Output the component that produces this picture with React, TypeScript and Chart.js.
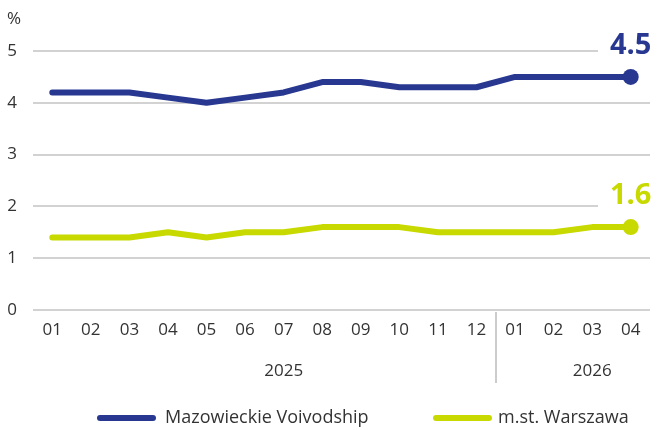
import React, { useEffect, useRef } from "react";
import { Chart, registerables } from "chart.js";
Chart.register(...registerables);

const months = ["01", "02", "03", "04", "05", "06", "07", "08", "09", "10", "11", "12", "01", "02", "03", "04"];
const years = ["2025", "2026"];
const yearMonthCounts = [12, 4];
const mazowieckie = [4.2, 4.2, 4.2, 4.1, 4.0, 4.1, 4.2, 4.4, 4.4, 4.3, 4.3, 4.3, 4.5, 4.5, 4.5, 4.5];
const warszawa = [1.4, 1.4, 1.4, 1.5, 1.4, 1.5, 1.5, 1.6, 1.6, 1.6, 1.5, 1.5, 1.5, 1.5, 1.6, 1.6];
const seriesNames = ["Mazowieckie Voivodship", "m.st. Warszawa"];
const seriesColors = ["#283891", "#C8D900"];
const unitLabel = "%";

const FONT = "'Open Sans', 'Noto Sans', sans-serif";
const TEXT = "#333333";

const extrasPlugin = {
  id: "extras",
  afterDraw(chart: any) {
    const ctx = chart.ctx;
    const x = chart.scales.x;
    const area = chart.chartArea;
    ctx.save();
    // unit label
    ctx.fillStyle = TEXT;
    ctx.font = `17px ${FONT}`;
    ctx.textAlign = "center";
    ctx.textBaseline = "middle";
    ctx.fillText(unitLabel, 14, 19);

    // year labels + separators
    let start = 0;
    years.forEach((yr, i) => {
      const cnt = yearMonthCounts[i];
      const cx = x.getPixelForValue(start + cnt / 2);
      ctx.fillStyle = TEXT;
      ctx.font = `17px ${FONT}`;
      ctx.textAlign = "center";
      ctx.textBaseline = "middle";
      ctx.fillText(yr, cx, area.bottom + 61);
      if (i > 0) {
        const sx = Math.round(x.getPixelForValue(start - 0.5));
        ctx.strokeStyle = "#cccccc";
        ctx.lineWidth = 2;
        ctx.beginPath();
        ctx.moveTo(sx, area.bottom + 2);
        ctx.lineTo(sx, area.bottom + 73);
        ctx.stroke();
      }
      start += cnt;
    });

    // end value labels
    chart.data.datasets.forEach((ds: any, di: number) => {
      const meta = chart.getDatasetMeta(di);
      const last = meta.data[meta.data.length - 1];
      const v = ds.data[ds.data.length - 1];
      const txt = v.toFixed(1);
      ctx.font = `bold 29px ${FONT}`;
      const w = ctx.measureText(txt).width;
      const by = last.y - 23;
      ctx.fillStyle = "#ffffff";
      ctx.fillRect(last.x - w / 2 - 12, by - 26, w + 24, 30);
      ctx.fillStyle = ds.borderColor;
      ctx.textAlign = "center";
      ctx.textBaseline = "alphabetic";
      ctx.fillText(txt, last.x, by);
    });

    // legend
    const items = [
      { x0: 100, x1: 153, tx: 165 },
      { x0: 436, x1: 489, tx: 498 },
    ];
    const ly = 418;
    chart.data.datasets.forEach((ds: any, di: number) => {
      const it = items[di];
      ctx.strokeStyle = ds.borderColor;
      ctx.lineWidth = 6;
      ctx.lineCap = "round";
      ctx.beginPath();
      ctx.moveTo(it.x0, ly);
      ctx.lineTo(it.x1, ly);
      ctx.stroke();
      ctx.fillStyle = TEXT;
      ctx.font = `18px ${FONT}`;
      ctx.textAlign = "left";
      ctx.textBaseline = "middle";
      ctx.fillText(ds.label, it.tx, ly);
    });
    ctx.restore();
  },
};

export default function App() {
  const ref = useRef<HTMLCanvasElement>(null);
  useEffect(() => {
    if (!ref.current) return;
    const lastIdx = months.length - 1;
    const radii = months.map((_, i) => (i === lastIdx ? 8 : 0));
    const chart = new Chart(ref.current, {
      type: "line",
      data: {
        labels: months,
        datasets: [
          {
            label: seriesNames[0],
            data: mazowieckie,
            borderColor: seriesColors[0],
            backgroundColor: seriesColors[0],
            borderWidth: 6,
            pointRadius: radii,
            pointBorderWidth: 0,
            pointHoverRadius: radii,
            tension: 0,
            borderCapStyle: "round",
            borderJoinStyle: "round",
          },
          {
            label: seriesNames[1],
            data: warszawa,
            borderColor: seriesColors[1],
            backgroundColor: seriesColors[1],
            borderWidth: 6,
            pointRadius: radii,
            pointBorderWidth: 0,
            pointHoverRadius: radii,
            tension: 0,
            borderCapStyle: "round",
            borderJoinStyle: "round",
          },
        ],
      },
      options: {
        animation: false,
        responsive: false,
        maintainAspectRatio: false,
        devicePixelRatio: 1,
        layout: { padding: { top: 51, right: 0, left: 0, bottom: 0 } },
        plugins: { legend: { display: false }, tooltip: { enabled: false } },
        scales: {
          x: {
            type: "category",
            offset: true,
            grid: { display: false, drawTicks: false },
            border: { display: false },
            ticks: {
              color: TEXT,
              font: { family: FONT, size: 17 },
              padding: 10,
              autoSkip: false,
              maxRotation: 0,
            },
            afterFit(scale: any) {
              scale.height = 120;
              scale.paddingLeft = 0;
              scale.paddingRight = 0;
            },
          },
          y: {
            min: 0,
            max: 5,
            grid: { color: "#d2d2d2", lineWidth: 2, drawTicks: false },
            border: { display: false },
            ticks: {
              stepSize: 1,
              color: TEXT,
              font: { family: FONT, size: 17 },
              padding: 16,
            },
            afterFit(scale: any) {
              scale.width = 33;
              scale.paddingTop = 0;
              scale.paddingBottom = 0;
            },
          },
        },
      },
      plugins: [extrasPlugin],
    });
    return () => chart.destroy();
  }, []);
  return (
    <div style={{ position: "fixed", left: 0, top: 0, width: 658, height: 430 }}>
      <canvas ref={ref} width={658} height={430} style={{ display: "block", width: 658, height: 430 }} />
    </div>
  );
}
